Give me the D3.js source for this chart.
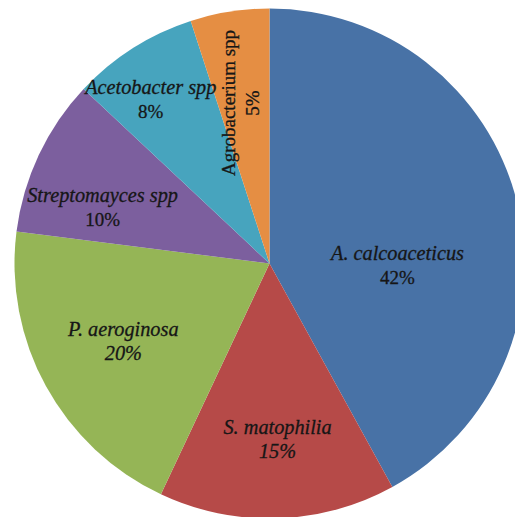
<!DOCTYPE html>
<html>
<head>
<meta charset="utf-8">
<script src="https://cdn.jsdelivr.net/npm/d3@7"></script>
<style>
  html, body { margin: 0; padding: 0; background: #fff; }
  svg { display: block; }
</style>
</head>
<body>
<svg id="chart" width="515" height="517"></svg>
<script>
// ---- data ----
const categories = ["A. calcoaceticus", "S. matophilia", "P. aeroginosa", "Streptomayces spp", "Acetobacter spp", "Agrobacterium spp"];
const values = [42, 15, 20, 10, 8, 5];
const pctLabels = ["42%", "15%", "20%", "10%", "8%", "5%"];
const colors = ["#4872a6", "#b64a48", "#95b556", "#7c5f9e", "#47a4be", "#e58e43"];

// ---- layout (label placement tweaks, not data) ----
const W = 515, H = 517;
const cx = 269.5, cy = 263.5, R = 255;
// label: radius (px) and angle shift (deg) relative to slice mid-angle
const labelLayout = [
  { r: 128, shift: 15.7, nameItalic: true,  pctItalic: false, rotate: 0 },
  { r: 177, shift: -0.8, nameItalic: true,  pctItalic: true,  rotate: 0 },
  { r: 166, shift: 0.5,  nameItalic: true,  pctItalic: true,  rotate: 0 },
  { r: 176, shift: -6.7, nameItalic: true,  pctItalic: false, rotate: 0 },
  { r: 202, shift: -3.6, nameItalic: true,  pctItalic: false, rotate: 0 },
  { r: 163, shift: -1.0, nameItalic: false, pctItalic: false, rotate: -90 }
];

const svg = d3.select("#chart");
const g = svg.append("g").attr("transform", `translate(${cx},${cy})`);

const pie = d3.pie().sort(null).value(d => d.value);
const table = categories.map((c, i) => ({ name: c, value: values[i], pct: pctLabels[i], color: colors[i], i }));
const arcs = pie(table);

const arc = d3.arc().innerRadius(0).outerRadius(R);

g.selectAll("path.slice")
  .data(arcs)
  .enter().append("path")
  .attr("class", "slice")
  .attr("d", arc)
  .attr("fill", d => d.data.color);

const fontFamily = "'Liberation Serif', 'Times New Roman', serif";
const italicSize = 20.3;
const regularSize = 19;
const lineGap = 24;

arcs.forEach(d => {
  const L = labelLayout[d.data.i];
  const mid = (d.startAngle + d.endAngle) / 2 + L.shift * Math.PI / 180;
  const x = Math.sin(mid) * L.r;
  const y = -Math.cos(mid) * L.r;
  const tg = g.append("g")
    .attr("transform", `translate(${x},${y}) rotate(${L.rotate})`);
  const t = tg.append("text")
    .attr("text-anchor", "middle")
    .attr("font-family", fontFamily)
    .attr("fill", "#161616")
    .attr("stroke", "#161616")
    .attr("stroke-width", 0.3);
  t.append("tspan")
    .attr("x", 0)
    .attr("y", -lineGap / 2 + 6)
    .attr("font-style", L.nameItalic ? "italic" : "normal")
    .attr("font-size", L.nameItalic ? italicSize : regularSize)
    .text(d.data.name);
  t.append("tspan")
    .attr("x", 0)
    .attr("y", lineGap / 2 + 6)
    .attr("font-style", L.pctItalic ? "italic" : "normal")
    .attr("font-size", L.pctItalic ? italicSize : regularSize)
    .text(d.data.pct);
});
</script>
</body>
</html>
